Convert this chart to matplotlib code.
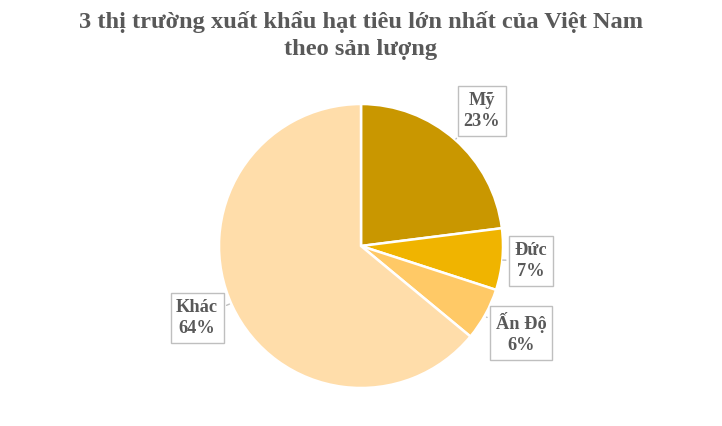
import matplotlib.pyplot as plt

# dữ liệu
labels = ["Mỹ", "Đức", "Ấn Độ", "Khác"]
shares = [23, 7, 6, 64]
colors = ["#C99700", "#F0B400", "#FFC966", "#FFDDAA"]

# vị trí nhãn (pixel, gốc trên-trái) và điểm mũi tên
label_xy = [(482, 111), (531, 261), (521, 333), (197, 318)]
tip_xy = [(454, 141), (500, 260), (484, 316), (232, 303)]

W, H = 722, 426
fig = plt.figure(figsize=(W / 100, H / 100), dpi=100)
ax = fig.add_axes([0, 0, 1, 1])

ax.pie(shares, colors=colors, startangle=90, counterclock=False,
       center=(361, H - 246), radius=142,
       wedgeprops=dict(edgecolor="white", linewidth=1.8))

ax.set_xlim(0, W)
ax.set_ylim(0, H)
ax.set_aspect("equal")
ax.axis("off")

font = dict(family="Liberation Serif", weight="bold", color="#595959")

for name, val, (lx, ly), (tx, ty) in zip(labels, shares, label_xy, tip_xy):
    ax.annotate(f"{name}\n{val}%", xy=(tx, H - ty), xytext=(lx, H - ly),
                ha="center", va="center", fontsize=13.2, linespacing=1.35, **font,
                bbox=dict(boxstyle="square,pad=0.3", fc="white", ec="#BFBFBF", lw=1),
                arrowprops=dict(arrowstyle="-", color="#BFBFBF", lw=1))

fig.text(0.5, 1 - 22 / H, "3 thị trường xuất khẩu hạt tiêu lớn nhất của Việt Nam",
         ha="center", va="center", fontsize=17.6, **font)
fig.text(0.5, 1 - 50 / H, "theo sản lượng",
         ha="center", va="center", fontsize=17.6, **font)

fig.savefig("out.png", dpi=100)
